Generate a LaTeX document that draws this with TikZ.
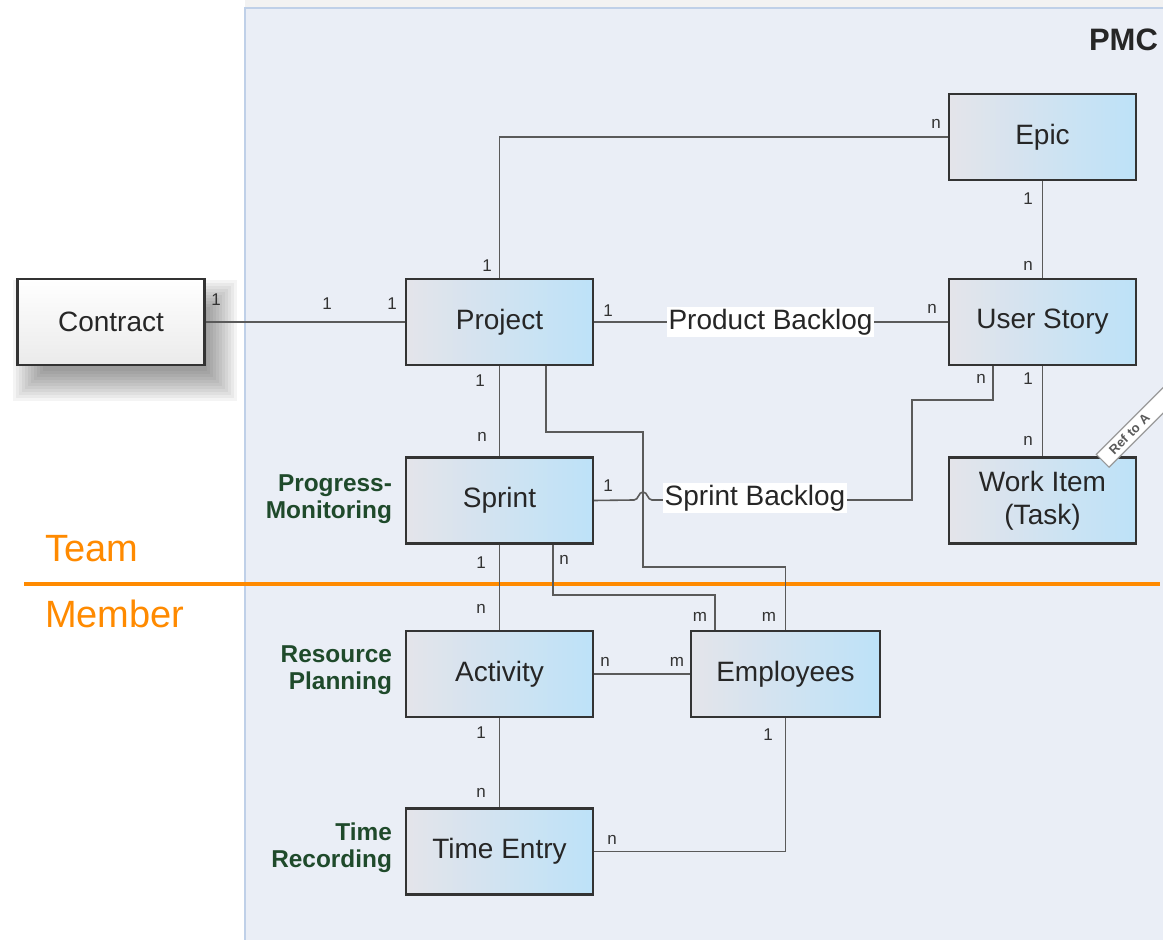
\documentclass[tikz,border=0pt]{standalone}
\usepackage{fontspec}
\setmainfont{Liberation Sans}
\definecolor{panelfill}{HTML}{EAEEF6}
\definecolor{panelline}{HTML}{BFD0E8}
\definecolor{boxgray}{HTML}{E4E4EA}
\definecolor{boxblue}{HTML}{BDE2F8}
\definecolor{linkgray}{HTML}{5A5A5A}
\definecolor{teamorange}{HTML}{FF8A00}
\definecolor{areagreen}{HTML}{1F4A2B}
\tikzstyle{entity}=[rectangle,draw=black!80,line width=1.2pt,left color=boxgray,right color=boxblue,minimum width=93.5pt,minimum height=43pt,font=\fontsize{14}{16.5}\selectfont,text=black!85,align=center]
\tikzstyle{outside}=[entity,left color=white,right color=white,top color=white,bottom color=black!8]
\tikzstyle{link}=[draw=linkgray,line width=0.8pt]
\tikzstyle{card}=[font=\fontsize{8.5}{10}\selectfont,text=black!80,inner sep=0pt]
\tikzstyle{backlog}=[fill=white,inner sep=1pt,font=\fontsize{14}{16.5}\selectfont,text=black!85]
\tikzstyle{area}=[anchor=east,align=right,font=\fontsize{12.2}{13.5}\selectfont\bfseries,text=areagreen]
\tikzstyle{team}=[anchor=west,font=\fontsize{19}{22}\selectfont,text=teamorange]
\tikzstyle{reftag}=[draw=black!40,fill=white,line width=0.6pt,font=\fontsize{6.5}{7}\selectfont\bfseries,text=black!65,minimum height=9pt,inner ysep=1pt,text width=40pt,align=left,inner xsep=6pt]

\begin{document}
\begin{tikzpicture}[x=0.5pt,y=-0.5pt]
			\useasboundingbox (0,0) rectangle (1163,940);
			% soft shadow of the contract box, then the panel
			\foreach \b in {-12,-9,...,18}
				\fill[black,opacity=0.045] (31-\b,298-\b) rectangle (219+\b,383+\b);
			\fill[black!5] (245,0) rectangle (1163,8);
			\fill[panelfill] (245,8) rectangle (1175,950);
			\draw[panelline,line width=1pt] (1175,8) -- (245,8) -- (245,950);
			\node (pmc) at (1165,40) [anchor=east,font=\fontsize{15.5}{18}\selectfont\bfseries,text=black!85] {PMC};
			% entities
			\node (contract) at (111,322) [outside] {Contract};
			\node (project) at (499.5,322) [entity] {Project};
			\node (epic) at (1042.5,137) [entity] {Epic};
			\node (story) at (1042.5,322) [entity] {User Story};
			\node (sprint) at (499.5,500.5) [entity] {Sprint};
			\node (task) at (1042.5,500.5) [entity] {Work Item\\(Task)};
			\node (activity) at (499.5,674) [entity] {Activity};
			\node (employees) at (785.5,674) [entity,minimum width=94.5pt] {Employees};
			\node (timeentry) at (499.5,851.5) [entity] {Time Entry};
			\node (ref) at (1109,468) [reftag,rotate=45,anchor=south west] {Ref to A};
			% areas
			\node (progress) at (399,499.5) [area] {Progress-\\Monitoring};
			\node (resource) at (399,670) [area] {Resource\\Planning};
			\node (recording) at (399,848) [area] {Time\\Recording};
			\node (team) at (38,549) [team] {Team};
			\node (member) at (38,614) [team] {Member};
			\draw[teamorange,line width=2pt] (24,584) -- (1160,584);
			% cardinalities
			\node (c1) at (216,300) [card] {1};
			\node (c2) at (327,304) [card] {1};
			\node (c3) at (392,304) [card] {1};
			\node (c4) at (487,266) [card] {1};
			\node (c5) at (936,124) [card] {n};
			\node (c6) at (608,311) [card] {1};
			\node (c7) at (932,309) [card] {n};
			\node (c8) at (1028,199) [card] {1};
			\node (c9) at (1028,266) [card] {n};
			\node (c10) at (480,381) [card] {1};
			\node (c11) at (482,437) [card] {n};
			\node (c12) at (981,379) [card] {n};
			\node (c13) at (1028,379) [card] {1};
			\node (c14) at (1028,441) [card] {n};
			\node (c15) at (608,486) [card] {1};
			\node (c16) at (481,563) [card] {1};
			\node (c17) at (564,560) [card] {n};
			\node (c18) at (700,617) [card] {m};
			\node (c19) at (769,617) [card] {m};
			\node (c20) at (481,609) [card] {n};
			\node (c21) at (605,662) [card] {n};
			\node (c22) at (677,662) [card] {m};
			\node (c23) at (481,733) [card] {1};
			\node (c24) at (481,793) [card] {n};
			\node (c25) at (768,735) [card] {1};
			\node (c26) at (612,840) [card] {n};
			% connectors
			\draw[link] (contract) -- (project);
			\draw[link] (project) |- (epic);
			\draw[link] (project) -- (story);
			\draw[link] (epic) -- (story);
			\draw[link] (project) -- (sprint);
			\draw[link] (story) -- (task);
			\draw[link] (sprint) -- (activity);
			\draw[link] (activity) -- (employees);
			\draw[link] (activity) -- (timeentry);
			\draw[link] ([xshift=-24.75pt]story.south) |- (912,400) |- (652,500) to[out=180,in=0] (643,492) to[out=180,in=0] (634,500) -- (sprint.east);
			\draw[link] ([xshift=23.25pt]project.south) |- (643,432) -- (643,567) -| (employees.north);
			\draw[link] ([xshift=26.75pt]sprint.south) |- (715,595) -- ([xshift=-35.25pt]employees.north);
			\draw[link] (employees.south) |- (timeentry.east);
			% backlog labels
			\node (pbacklog) at (770.5,322) [backlog] {Product Backlog};
			\node (sbacklog) at (755,498) [backlog] {Sprint Backlog};
		\end{tikzpicture}
\end{document}
